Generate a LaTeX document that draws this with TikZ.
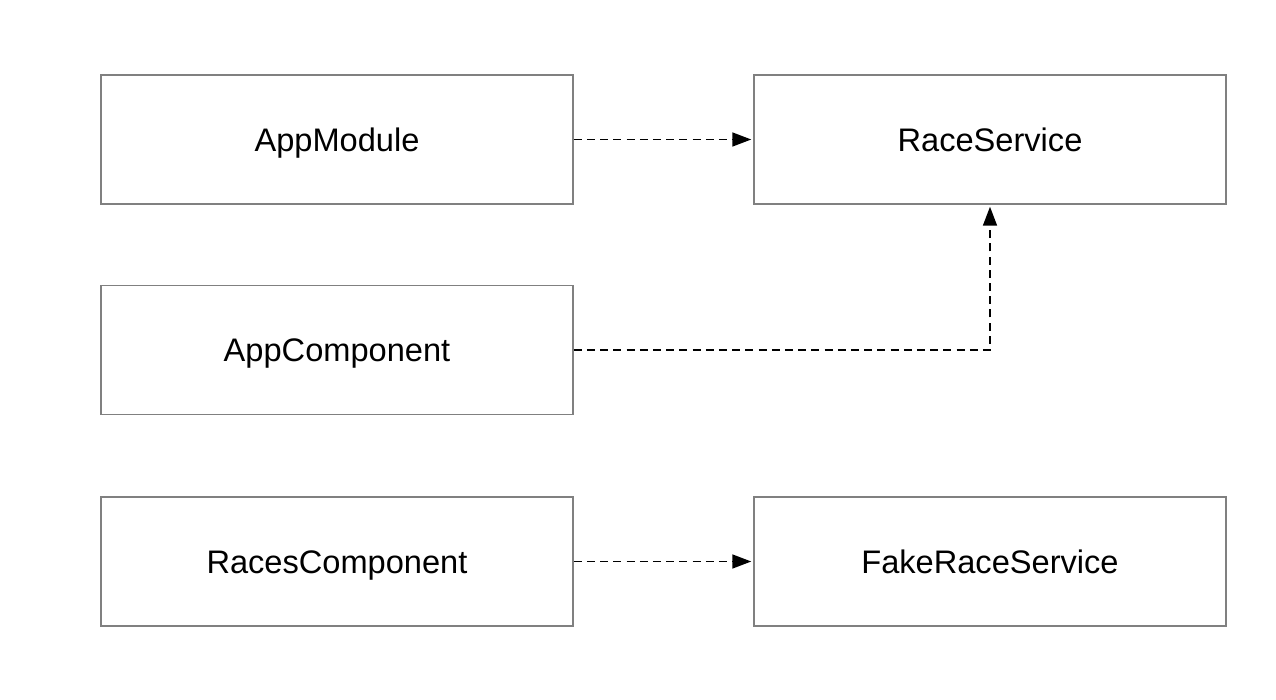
\documentclass[tikz,border=0pt]{standalone}
\usepackage{fontspec}
\setmainfont{Liberation Sans}
\usetikzlibrary{arrows.meta}
\tikzset{
  box/.style={draw=black!50, line width=0.75pt, minimum width=236pt, minimum height=64.5pt,
    text height=15.4pt, text depth=3.4pt, font=\fontsize{16.3}{19}\selectfont},
  dep/.style={draw=black, line width=0.85pt, dash pattern=on 4pt off 2.6pt,
    -{Triangle[length=9.5pt, width=7pt]}, shorten >=1pt}
}
\begin{document}
\begin{tikzpicture}[x=0.5pt, y=-0.5pt]
    \useasboundingbox (0,0) rectangle (1276,700);

    % Left column
    \node[box] (appmodule) at (337,139.5) {AppModule};
    \node[box] (appcomponent) at (337,350) {AppComponent};
    \node[box] (racescomponent) at (337,561.5) {RacesComponent};

    % Right column
    \node[box] (raceservice) at (990,139.5) {RaceService};
    \node[box] (fakeraceservice) at (990,561.5) {FakeRaceService};

    % Dependencies
    \draw[dep] (appmodule.east) -- (raceservice.west);
    \draw[dep] (appcomponent.east) -| (raceservice.south);
    \draw[dep] (racescomponent.east) -- (fakeraceservice.west);
\end{tikzpicture}
\end{document}
